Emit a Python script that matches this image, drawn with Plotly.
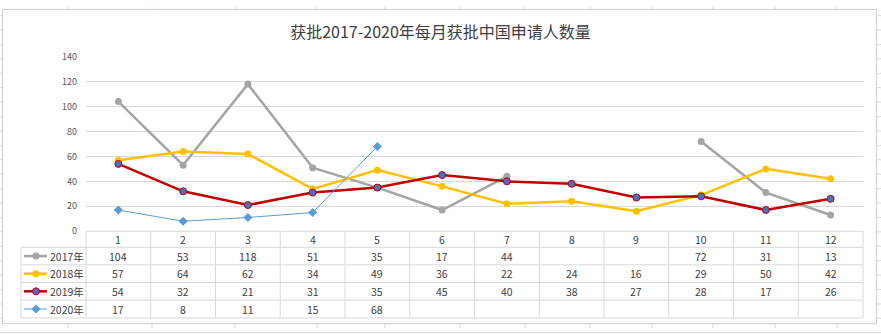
import plotly.graph_objects as go

# ---- data -------------------------------------------------------------
months = list(range(1, 13))
month_labels = [str(m) for m in months]
series_names = ["2017年", "2018年", "2019年", "2020年"]
v2017 = [104, 53, 118, 51, 35, 17, 44, None, None, 72, 31, 13]
v2018 = [57, 64, 62, 34, 49, 36, 22, 24, 16, 29, 50, 42]
v2019 = [54, 32, 21, 31, 35, 45, 40, 38, 27, 28, 17, 26]
v2020 = [17, 8, 11, 15, 68]
y_ticks = [0, 20, 40, 60, 80, 100, 120, 140]
title_text = "获批2017-2020年每月获批中国申请人数量"

# ---- geometry (pixels) -------------------------------------------------
W, H = 881, 334
PLOT_L, PLOT_R = 86, 863
PLOT_T, PLOT_B = 51.7, 233.3
TABLE_L = 21
ROW_EDGES = [233.3, 250, 268.3, 286.7, 305, 323.5]
CELL_W = (PLOT_R - PLOT_L) / len(months)

FONT = "Noto Sans CJK SC"
TEXT_COLOR = "#404040"
GRID = "#D9D9D9"
SHEET_GRID = "#DADADA"


def px(x):
    return x / W


def py(y):
    return 1 - y / H


styles = [
    dict(line=dict(color="#A5A5A5", width=2.5),
         marker=dict(symbol="circle", size=7, color="#A5A5A5")),
    dict(line=dict(color="#FFC000", width=2.5),
         marker=dict(symbol="circle", size=7, color="#FFC000")),
    dict(line=dict(color="#C00000", width=2.5),
         marker=dict(symbol="circle", size=7, color="#4472C4",
                     line=dict(color="#C00000", width=1))),
    dict(line=dict(color="#5B9BD5", width=1),
         marker=dict(symbol="diamond", size=7, color="#5B9BD5")),
]
values = [v2017, v2018, v2019, v2020]

fig = go.Figure()

for name, vals, st in zip(series_names, values, styles):
    fig.add_trace(go.Scatter(
        x=months[:len(vals)], y=vals, name=name, mode="lines+markers",
        line=st["line"], marker=st["marker"], connectgaps=False,
        showlegend=False, hoverinfo="x+y+name",
    ))

# legend keys inside the data table, on a full-page pixel axis
for i, (name, st) in enumerate(zip(series_names, styles)):
    yc = (ROW_EDGES[i + 1] + ROW_EDGES[i + 2]) / 2
    fig.add_trace(go.Scatter(
        x=[24, 36, 47], y=[yc, yc, yc], mode="lines",
        line=st["line"], xaxis="x2", yaxis="y2",
        showlegend=False, hoverinfo="skip",
    ))
    fig.add_trace(go.Scatter(
        x=[36], y=[yc], mode="markers", marker=st["marker"],
        xaxis="x2", yaxis="y2", showlegend=False, hoverinfo="skip",
    ))

shapes = []

# worksheet cells behind the chart
sheet_cols = [68, 152, 235, 317, 385, 460, 525, 590, 652, 713, 775, 837]
for x in sheet_cols:
    shapes.append(dict(type="line", xref="paper", yref="paper",
                       x0=px(x), x1=px(x), y0=0, y1=1, layer="below",
                       line=dict(color=SHEET_GRID, width=1)))
for k in range(23):
    y = 9 + 15 * k
    shapes.append(dict(type="line", xref="paper", yref="paper",
                       x0=0, x1=1, y0=py(y), y1=py(y), layer="below",
                       line=dict(color=SHEET_GRID, width=1)))

# chart area
shapes.append(dict(type="rect", xref="paper", yref="paper",
                   x0=px(2.5), x1=px(876.5), y0=py(329.5), y1=py(2.5),
                   fillcolor="white", layer="below",
                   line=dict(color="#D0D0D0", width=1)))

# data table grid
for j, y in enumerate(ROW_EDGES):
    x0 = PLOT_L if j == 0 else TABLE_L
    shapes.append(dict(type="line", xref="paper", yref="paper",
                       x0=px(x0), x1=px(PLOT_R), y0=py(y), y1=py(y),
                       layer="below", line=dict(color=GRID, width=1)))
shapes.append(dict(type="line", xref="paper", yref="paper",
                   x0=px(TABLE_L), x1=px(TABLE_L),
                   y0=py(ROW_EDGES[1]), y1=py(ROW_EDGES[-1]),
                   layer="below", line=dict(color=GRID, width=1)))
for k in range(len(months) + 1):
    x = PLOT_L + k * CELL_W
    shapes.append(dict(type="line", xref="paper", yref="paper",
                       x0=px(x), x1=px(x),
                       y0=py(ROW_EDGES[0]), y1=py(ROW_EDGES[-1]),
                       layer="below", line=dict(color=GRID, width=1)))

annotations = []
# table header: month numbers
for k, lab in enumerate(month_labels):
    xc = PLOT_L + (k + 0.5) * CELL_W
    annotations.append(dict(
        xref="paper", yref="paper", x=px(xc),
        y=py((ROW_EDGES[0] + ROW_EDGES[1]) / 2),
        text=lab, showarrow=False, xanchor="center", yanchor="middle",
        font=dict(family=FONT, size=10.5, color=TEXT_COLOR)))
# table body: series names and values
for i, (name, vals) in enumerate(zip(series_names, values)):
    yc = (ROW_EDGES[i + 1] + ROW_EDGES[i + 2]) / 2
    annotations.append(dict(
        xref="paper", yref="paper", x=px(48), y=py(yc), text=name,
        showarrow=False, xanchor="left", yanchor="middle",
        font=dict(family=FONT, size=10.5, color=TEXT_COLOR)))
    for k, v in enumerate(vals):
        if v is None:
            continue
        xc = PLOT_L + (k + 0.5) * CELL_W
        annotations.append(dict(
            xref="paper", yref="paper", x=px(xc), y=py(yc), text=str(v),
            showarrow=False, xanchor="center", yanchor="middle",
            font=dict(family=FONT, size=10.5, color=TEXT_COLOR)))

fig.update_layout(
    width=W, height=H,
    margin=dict(l=0, r=0, t=0, b=0),
    paper_bgcolor="white", plot_bgcolor="rgba(0,0,0,0)",
    title=dict(text=title_text, x=0.5, xanchor="center",
               y=py(26), yanchor="middle", yref="paper",
               font=dict(family=FONT, size=16, color="#404040")),
    xaxis=dict(domain=[px(PLOT_L), px(PLOT_R)], range=[0.5, 12.5],
               visible=False, fixedrange=True),
    yaxis=dict(domain=[py(PLOT_B), py(PLOT_T)], range=[0, 140],
               tickvals=y_ticks, showgrid=True, gridcolor=GRID,
               gridwidth=1, zeroline=False, showline=False, ticks="",
               ticklabelstandoff=8,
               tickfont=dict(family=FONT, size=9, color="#595959")),
    xaxis2=dict(domain=[0, 1], range=[0, W], visible=False,
                anchor="y2", fixedrange=True),
    yaxis2=dict(domain=[0, 1], range=[H, 0], visible=False,
                anchor="x2", fixedrange=True),
    shapes=shapes, annotations=annotations,
    showlegend=False,
)

fig.write_html("out.html")
